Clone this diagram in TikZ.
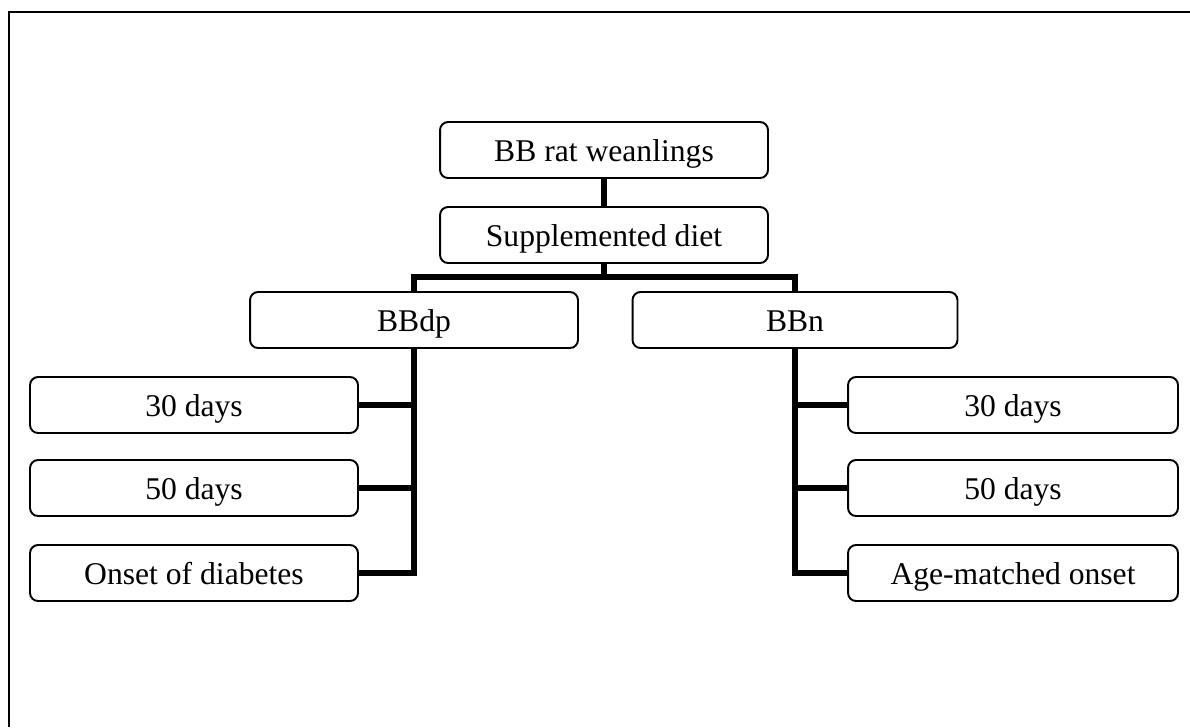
\documentclass[tikz,border=0pt]{standalone}
\usepackage{fontspec}
\setmainfont{Liberation Serif}
\usepackage{tikz}

\begin{document}
\begin{tikzpicture}[x=0.02cm, y=-0.02cm,
    box/.style={draw, line width=1.1pt, rounded corners=0.16cm, minimum width=6.56cm, minimum height=1.12cm, inner sep=0pt, text height=13pt, text depth=0pt, font=\fontsize{18}{21}\selectfont},
    conn/.style={line width=3pt, line join=miter}]
  \useasboundingbox (0, 0) rectangle (1190, 727);
  \draw[line width=1.7pt] (9, 727) -- (9, 12) -- (1190, 12);

  \node[box] (wean) at (604, 150) {BB rat weanlings};
  \node[box] (diet) at (604, 235) {Supplemented diet};
  \node[box] (bbdp) at (414, 320) {BBdp};
  \node[box, minimum width=6.5cm] (bbn) at (795, 320) {BBn};

  \node[box] (dp30) at (194, 405) {30 days};
  \node[box] (dp50) at (194, 488) {50 days};
  \node[box] (dponset) at (194, 573) {Onset of diabetes};
  \node[box, minimum width=6.6cm] (n30) at (1013, 405) {30 days};
  \node[box, minimum width=6.6cm] (n50) at (1013, 488) {50 days};
  \node[box, minimum width=6.6cm] (nonset) at (1013, 573) {Age-matched onset};

  \coordinate (split) at (604, 277);
  \draw[conn] (wean) -- (diet);
  \draw[conn] (diet) -- (split);
  \draw[conn] (split) -| (bbdp);
  \draw[conn] (split) -| (bbn);

  \draw[conn] (bbdp) |- (dponset);
  \draw[conn] (dp30) -- (dp30 -| bbdp);
  \draw[conn] (dp50) -- (dp50 -| bbdp);

  \draw[conn] (bbn) |- (nonset);
  \draw[conn] (n30) -- (n30 -| bbn);
  \draw[conn] (n50) -- (n50 -| bbn);
\end{tikzpicture}
\end{document}
